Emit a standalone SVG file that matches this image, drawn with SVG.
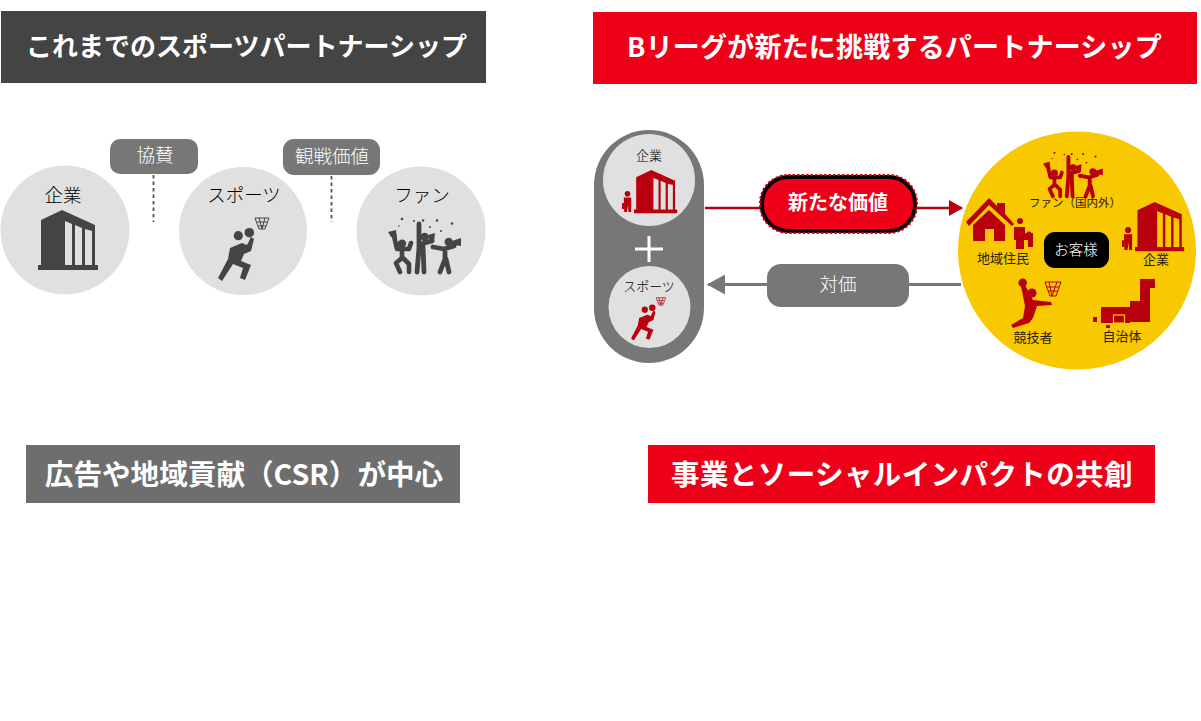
<svg xmlns="http://www.w3.org/2000/svg" width="1201" height="721" viewBox="0 0 1201 721">
<style>
text{font-family:"Noto Sans CJK JP","Noto Sans",sans-serif;text-anchor:middle}
.b{font-size:26px;font-weight:700;fill:#fff}
.l{font-size:18.5px;font-weight:300;fill:#000}
.c{font-size:18.5px;font-weight:300;fill:#fff}
.s{font-size:13px;font-weight:300;fill:#000}
.y{font-size:13px;font-weight:400;fill:#2a2000}
.chip{fill:#777}
.disc{fill:#e0e0e0}
.dk{fill:#444;stroke:#444}
.rd{fill:#b8000f;stroke:#b8000f}
.ds{stroke:#555;stroke-width:1.8;stroke-dasharray:3.500 3;fill:none}
</style>
<defs>
<g id="bld" stroke="none"><path fill-rule="evenodd" d="M0 55H3V10L24 0L57 15V55H60V60H0ZM27 11V55H34V14ZM37 15V55H44V18ZM47 19V55H54V21Z"/></g>
<g id="ply"><circle cx="20.300" cy="18.700" r="4.600" stroke="none"/><circle cx="31.300" cy="15.700" r="4.800" stroke="none"/><path stroke="none" d="M12 31L24 26L29 28L33 20L36 22L33 34L26 37L23 44L33 48L27 63L22 61L25 51L15 47L4 64L0 61L10 42Z"/><path d="M37 1H51L47 12H41ZM41 1L44 12M47 1L44 12M39 5H49M40 9H48" fill="none" stroke-width="1"/></g>
<g id="fan"><g stroke="none"><circle cx="14" cy="25.600" r="4.200"/><circle cx="36.700" cy="19" r="4.200"/><circle cx="60.700" cy="24" r="4.200"/><circle cx="14" cy="1" r="1.300"/><circle cx="26" cy="3" r="1"/><circle cx="35" cy="2.500" r="1.300"/><circle cx="49" cy="2.500" r="1.300"/><circle cx="64" cy="5.500" r="1.300"/><circle cx="42" cy="9" r="1"/><circle cx="53" cy="13" r="1"/><circle cx="11" cy="8" r=".8"/><path d="M0 14L8 12L9 20L3 19Z"/><path d="M64 23L73 20V28L64 27Z"/><path d="M40 17L47 15L46 24L41 22Z"/></g><path d="M6 18L9 31H21L23 25M14 31V40L8 45L12 54M15 40L21 46L21 54" fill="none" stroke-width="4.600" stroke-linecap="round" stroke-linejoin="round"/><path d="M31 6V30M31 30L29 54M35 28L36 54M33 26L44 23" fill="none" stroke-width="4.800" stroke-linecap="round" stroke-linejoin="round"/><path d="M45 29L56 31L66 28M57 31V41L52 54M58 41L61 54" fill="none" stroke-width="4.800" stroke-linecap="round" stroke-linejoin="round"/></g>
<g id="man" stroke="none"><circle cx="5.500" cy="2.800" r="2.800"/><path d="M1.800 6.500H9.200V21H6.500L6 14L5 21H2.200Z"/><rect x="0" y="12" width="2.200" height="6"/></g>
<marker id="ar" viewBox="0 0 14 16" refX="13" refY="8" markerWidth="14" markerHeight="16" markerUnits="userSpaceOnUse" orient="auto"><path d="M0 0L14 8L0 16Z" fill="#b8000f"/></marker>
<marker id="ag" viewBox="0 0 18 20" refX="17" refY="10" markerWidth="18" markerHeight="20" markerUnits="userSpaceOnUse" orient="auto"><path d="M0 0L18 10L0 20Z" fill="#777"/></marker>
</defs>
<rect width="1201" height="721" fill="#fff"/>
<g id="connectors">
<path class="ds" d="M153.500 175V222"/>
<path class="ds" d="M331.500 176V222"/>
<path d="M705 208H962" fill="none" stroke="#b8000f" stroke-width="2.500" marker-end="url(#ar)"/>
<path d="M961 284.500H708" fill="none" stroke="#777" stroke-width="3" marker-end="url(#ag)"/>
</g>
<g id="banner-past"><rect x="1" y="11" width="485" height="72" fill="#444"/><text class="b" x="246.500" y="56">これまでのスポーツパートナーシップ</text></g>
<g id="banner-new"><rect x="593" y="12" width="604" height="72" fill="#ee0019"/><text class="b" x="894.500" y="57" style="font-size:27px" letter-spacing=".2">Bリーグが新たに挑戦するパートナーシップ</text></g>
<g id="banner-csr"><rect x="26" y="445" width="434" height="58" fill="#6e6e6e"/><text class="b" x="244" y="485" style="font-size:28.600px">広告や地域貢献（CSR）が中心</text></g>
<g id="banner-co"><rect x="648" y="445" width="507" height="58" fill="#ee0019"/><text class="b" x="902" y="485" style="font-size:28.500px" letter-spacing=".4">事業とソーシャルインパクトの共創</text></g>
<g id="node-company"><circle class="disc" cx="65" cy="230" r="64.500"/><text class="l" x="63" y="202">企業</text><use href="#bld" x="38" y="210" class="dk"/></g>
<g id="node-sports"><circle class="disc" cx="243" cy="231" r="64"/><text class="l" x="244" y="202">スポーツ</text><use href="#ply" x="218" y="217" class="dk"/></g>
<g id="node-fan"><circle class="disc" cx="421" cy="231" r="64.500"/><text class="l" x="422" y="202">ファン</text><use href="#fan" x="388" y="218" class="dk"/></g>
<g id="chip-sponsor"><rect class="chip" x="110" y="139" width="88" height="35" rx="10"/><text class="c" x="155" y="162">協賛</text></g>
<g id="chip-watch"><rect class="chip" x="283" y="139" width="97" height="36" rx="11"/><text class="c" x="332" y="163">観戦価値</text></g>
<g id="node-pair"><rect x="594" y="130" width="110" height="233" rx="55" fill="#777"/><circle class="disc" cx="649" cy="180" r="46"/><text class="s" x="649" y="160">企業</text><use href="#bld" transform="translate(634 170) scale(.72)" class="rd"/><use href="#man" transform="translate(622 191)" class="rd"/><path d="M635 249H663M649 236V262" stroke="#fff" stroke-width="3" fill="none"/><circle class="disc" cx="649.500" cy="307" r="41"/><text class="s" x="649" y="291">スポーツ</text><use href="#ply" transform="translate(631 297) scale(.68)" class="rd"/></g>
<g id="node-value"><rect x="762" y="177" width="153" height="54" rx="26" fill="#ee0019" stroke="#000" stroke-width="4"/><rect x="760" y="175" width="157" height="58" rx="28" fill="none" stroke="#d4001a" stroke-width="2" stroke-dasharray="2.500 2"/><text x="838" y="210" font-size="20" font-weight="700" fill="#fff">新たな価値</text></g>
<g id="chip-price"><rect class="chip" x="767" y="264" width="142" height="43" rx="14"/><text class="c" x="838" y="291">対価</text></g>
<g id="node-customers"><circle cx="1077" cy="250.500" r="119" fill="#f8c800"/>
<use href="#fan" transform="translate(1043 152) scale(.82)" class="rd"/><text class="y" x="1075" y="207" style="font-size:11.500px">ファン（国内外）</text>
<path fill="#b8000f" d="M966 222L989 198L997 206V203H1005V214L1014 224L1012 226L989 205L969 226ZM973 225L989 210L1005 225V241H994V229H985V241H973Z"/>
<circle cx="1020" cy="221" r="3" fill="#b8000f"/><path fill="#b8000f" d="M1014 227H1025V233H1033V247H1028V240H1024V249H1016V240H1014Z"/><circle cx="1029" cy="234" r="2.500" fill="#b8000f"/>
<text class="y" x="1003" y="263">地域住民</text>
<use href="#bld" transform="translate(1135 202) scale(.82)" class="rd"/><use href="#man" transform="translate(1122 227) scale(1.100)" class="rd"/><text class="y" x="1156" y="264">企業</text>
<g id="jumper" fill="#b8000f"><circle cx="1032" cy="293" r="4.500"/><circle cx="1022.700" cy="282.700" r="4.300"/><path d="M1021 286L1025 285L1033 300L1051 302L1052 305L1037 306L1033 318L1029 323L1013 328L1011 325L1023 318L1025 306Z"/></g>
<path d="M1045 282H1061L1056 296H1050ZM1049 282L1052 296M1057 282L1052 296M1047 287H1059M1048 291H1057" fill="none" stroke="#b8000f" stroke-width="1"/>
<text class="y" x="1033" y="342">競技者</text>
<path fill="#b8000f" d="M1140 279H1155V288H1150V322H1130V323H1101V307H1130V301H1140ZM1093 317H1097V322H1093ZM1106 325H1110V328H1106Z"/><rect x="1113.500" y="315" width="11" height="8" fill="none" stroke="#f8c800" stroke-width="1.200"/>
<text class="y" x="1122" y="341">自治体</text>
<rect x="1044" y="232" width="65" height="36" rx="11" fill="#000"/><text x="1076" y="255" font-size="14.500" font-weight="300" fill="#fff">お客様</text></g>
</svg>
